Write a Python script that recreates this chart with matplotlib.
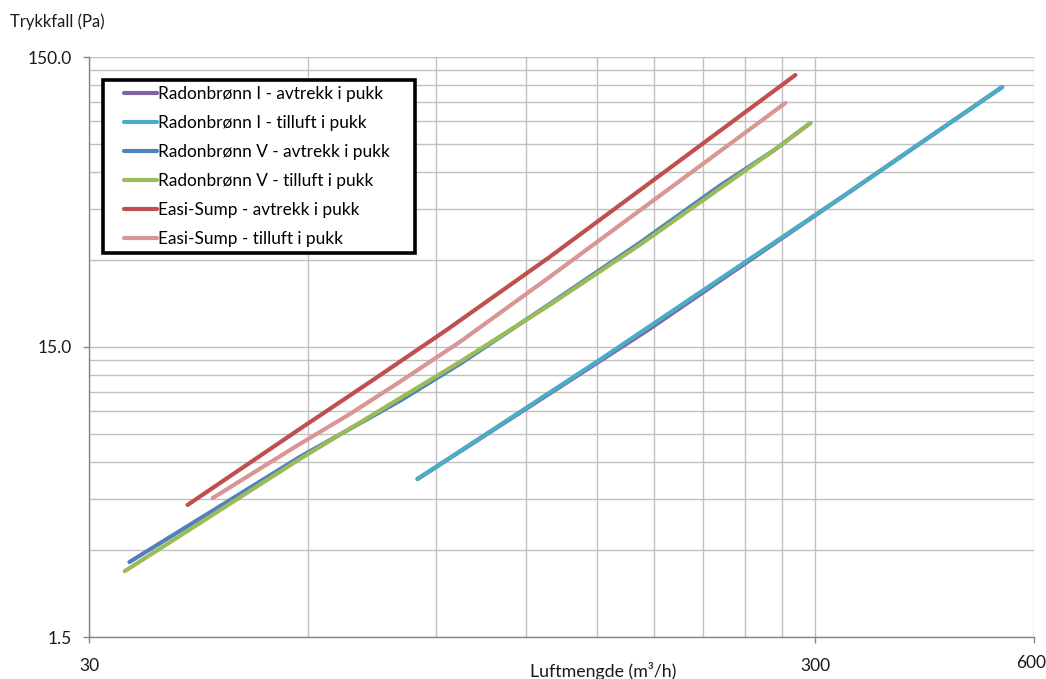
import matplotlib
matplotlib.use("Agg")
import matplotlib.pyplot as plt
from matplotlib.ticker import FixedLocator, FixedFormatter, NullFormatter
from matplotlib.lines import Line2D
from matplotlib.patches import Rectangle

plt.rcParams['font.family'] = ['Lato', 'DejaVu Sans']

# ---- data ----
ri_av_x = [85.0, 177.3, 334.2, 542.5]
ri_av_y = [5.26, 17.30, 51.35, 118.2]
ri_ti_x = [85.0, 152.8, 334.2, 542.5]
ri_ti_y = [5.26, 13.75, 51.35, 118.2]
rv_av_x = [34.1, 58.5, 80.3, 97.2, 129.2, 171.8, 221.4, 263.5, 295.3]
rv_av_y = [2.72, 6.26, 9.77, 13.11, 21.10, 34.24, 53.87, 71.7, 88.8]
rv_ti_x = [33.6, 58.5, 97.2, 129.2, 171.8, 263.5, 295.3]
rv_ti_y = [2.53, 6.16, 13.32, 20.94, 33.71, 71.7, 88.8]
es_av_x = [41.0, 58.5, 73.8, 93.2, 129.2, 281.6]
es_av_y = [4.28, 7.82, 11.54, 17.17, 30.64, 130.0]
es_ti_x = [44.4, 58.5, 68.6, 80.3, 97.2, 129.2, 272.8]
es_ti_y = [4.52, 6.94, 8.81, 11.36, 15.61, 26.15, 104.1]

labels = ["Radonbrønn I - avtrekk i pukk", "Radonbrønn I - tilluft i pukk",
          "Radonbrønn V - avtrekk i pukk", "Radonbrønn V - tilluft i pukk",
          "Easi-Sump - avtrekk i pukk", "Easi-Sump - tilluft i pukk"]
colors = ["#8064A2", "#4BACC6", "#4F81BD", "#9BBB59", "#C0504D", "#D99694"]
series = [(ri_av_x, ri_av_y), (ri_ti_x, ri_ti_y), (rv_av_x, rv_av_y),
          (rv_ti_x, rv_ti_y), (es_av_x, es_av_y), (es_ti_x, es_ti_y)]

x_major = [30, 300, 600]
x_major_labels = ["30", "300", "600"]
x_minor = [60, 90, 120, 150, 180, 210, 240, 270]
y_major = [1.5, 15, 150]
y_major_labels = ["1.5", "15.0", "150.0"]
y_minor = [3, 4.5, 6, 7.5, 9, 10.5, 12, 13.5, 30, 45, 60, 75, 90, 105, 120, 135]

W, H = 1046, 679
# ---- figure ----
fig = plt.figure(figsize=(W/100, H/100), dpi=100)
ax = fig.add_axes([89/W, 1-637/H, (1034-89)/W, (637-57)/H])
ax.set_xscale('log')
ax.set_yscale('log')
ax.set_xlim(30, 600)
ax.set_ylim(1.5, 150)

ax.xaxis.set_major_locator(FixedLocator(x_major))
ax.xaxis.set_major_formatter(FixedFormatter(x_major_labels[:-1] + [""]))
ax.xaxis.set_minor_locator(FixedLocator(x_minor))
ax.xaxis.set_minor_formatter(NullFormatter())
ax.yaxis.set_major_locator(FixedLocator(y_major))
ax.yaxis.set_major_formatter(FixedFormatter(y_major_labels))
ax.yaxis.set_minor_locator(FixedLocator(y_minor))
ax.yaxis.set_minor_formatter(NullFormatter())

gridc = "#C0C0C0"
ax.grid(True, which='both', color=gridc, linewidth=1.0)
ax.set_axisbelow(True)
for s in ['top', 'right']:
    ax.spines[s].set_visible(False)
for s in ['left', 'bottom']:
    ax.spines[s].set_color("#868686")
    ax.spines[s].set_linewidth(1.0)

tc = "#1a1a1a"
ax.tick_params(axis='both', which='major', length=4, width=1, color="#868686",
               labelsize=12.5, labelcolor=tc)
ax.tick_params(axis='x', which='major', pad=11)
ax.tick_params(axis='y', which='major', pad=8)
ax.tick_params(axis='both', which='minor', length=0)

for (xs, ys), c, lab in zip(series, colors, labels):
    ax.plot(xs, ys, color=c, linewidth=3.0, solid_capstyle='round', label=lab)

# legend frame drawn as a rectangle
rect = Rectangle((103/W, 1-253/H), (415-103)/W, (253-80)/H, transform=fig.transFigure,
                 facecolor='white', edgecolor='black', linewidth=2.6, zorder=5)
fig.patches.append(rect)
handles = [Line2D([0], [0], color=c, linewidth=3.0, solid_capstyle='round') for c in colors]
leg = fig.legend(handles, labels, loc='upper left', bbox_to_anchor=(124/W, 1-86/H),
                 borderaxespad=0, borderpad=0, frameon=False, fontsize=12.4,
                 handlelength=1.9, handletextpad=0.1, labelspacing=0.76)
leg.set_zorder(6)

fig.text(1031/W, 1-663/H, x_major_labels[-1], ha='center', va='center', fontsize=12.5, color=tc)
fig.text(10/W, 1-22/H, "Trykkfall (Pa)", ha='left', va='center', fontsize=12, color=tc)
fig.text(603/W, 1-671/H, "Luftmengde (m³/h)", ha='center', va='center', fontsize=12.8, color=tc)

fig.savefig("out.png", dpi=100)
